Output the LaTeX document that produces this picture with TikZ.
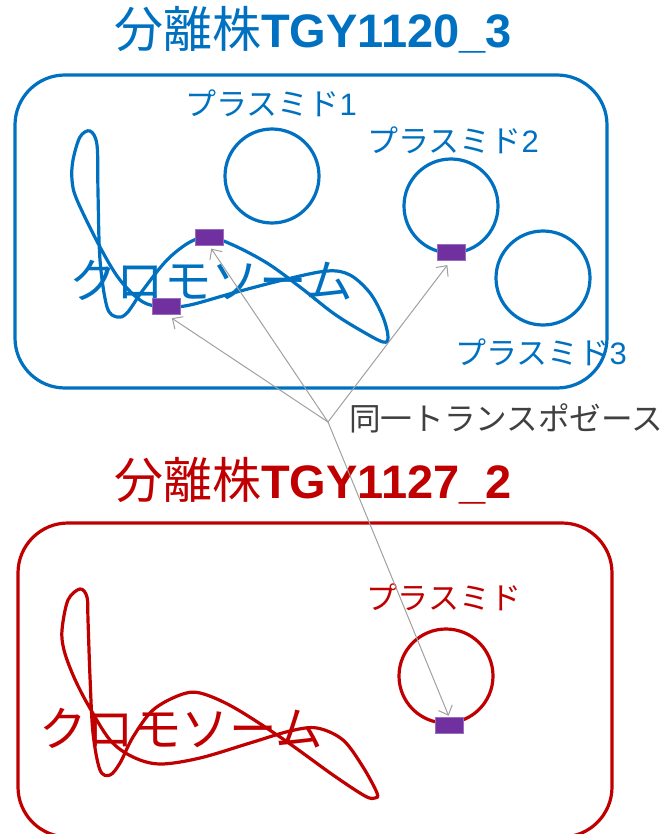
\documentclass[tikz,border=0pt]{standalone}
\usepackage{fontspec}
\usetikzlibrary{arrows.meta}
\newfontfamily\jpfont{Noto Sans CJK JP}
\newfontfamily\latfont{Liberation Sans}
\definecolor{isoblue}{HTML}{0070C0}
\definecolor{isored}{HTML}{C00000}
\definecolor{tnpurple}{HTML}{7030A0}
\definecolor{arrowgray}{HTML}{A0A0A0}
\definecolor{notegray}{HTML}{404040}
\tikzset{
  cellbox/.style={draw, line width=3.2pt, rounded corners=50pt},
  chromo/.style={line width=3.2pt},
  plasmid/.style={circle, draw, line width=3.2pt, minimum size=94pt, inner sep=0pt},
  tnsite/.style={fill=tnpurple, draw=tnpurple!70, line width=0.6pt, minimum width=28pt, minimum height=16pt, inner sep=0pt},
  title/.style={anchor=base west, inner sep=0pt},
  chrlabel/.style={inner sep=0pt, font=\jpfont\fontsize{47.5}{50}\selectfont},
  plabel/.style={inner sep=0pt, font=\fontsize{31}{34}\selectfont},
  tnarrow/.style={draw=arrowgray, line width=1pt, -{Straight Barb[length=8pt,width=15pt]}}
}
\newcommand{\isotitle}[1]{{\jpfont\fontsize{49}{52}\selectfont 分離株}{\latfont\bfseries\fontsize{47}{52}\selectfont #1}}
\begin{document}
\begin{tikzpicture}[x=1pt, y=-1pt]
\useasboundingbox (0,0) rectangle (666,834);

% ---- isolate TGY1120_3 ----
\node[title, text=isoblue] (t1) at (114,48) {\isotitle{TGY1120\_3}};
\draw[cellbox, isoblue] (15,75) rectangle (607,388);
\draw[chromo, isoblue] plot[smooth cycle, tension=0.55] coordinates {
  (90,131) (80,137) (73,160) (72,180) (77,200) (100,247) (120,280) (143,302)
  (166,307) (190,305) (233,293) (283,280) (327,271) (350,275) (370,293)
  (383,317) (388,337) (383,342) (360,330) (333,313) (300,287) (267,263)
  (233,245) (209,237) (190,242) (167,260) (143,290) (127,313) (117,317)
  (107,307) (100,260) (98,193) (97,145)};
\node[chrlabel, text=isoblue] (c1) at (211,280) {クロモソーム};
\node[plasmid, isoblue] (p1) at (272,176) {};
\node[plasmid, isoblue] (p2) at (451,206) {};
\node[plasmid, isoblue] (p3) at (543,278) {};
\node[plabel, text=isoblue] (l1) at (271,103) {{\jpfont プラスミド}{\latfont 1}};
\node[plabel, text=isoblue] (l2) at (453,140) {{\jpfont プラスミド}{\latfont 2}};
\node[plabel, text=isoblue] (l3) at (541,352) {{\jpfont プラスミド}{\latfont 3}};
\node[tnsite] (s1) at (209,237) {};
\node[tnsite] (s2) at (166,306) {};
\node[tnsite] (s3) at (451,252) {};

% ---- isolate TGY1127_2 ----
\node[title, text=isored] (t2) at (114,498) {\isotitle{TGY1127\_2}};
\draw[cellbox, isored] (18,523) rectangle (612,837);
\draw[chromo, isored] plot[smooth cycle, tension=0.55] coordinates {
  (80,589) (68,600) (62,630) (64,650) (73,675) (87,703) (110,740) (133,757)
  (160,764) (200,758) (250,743) (290,731) (317,728) (343,740) (363,767)
  (377,793) (375,798) (365,796) (333,775) (283,739) (233,707) (200,693)
  (180,695) (153,710) (133,737) (120,763) (110,775) (100,770) (93,733)
  (90,677) (88,620) (87,597)};
\node[chrlabel, text=isored] (c2) at (181,728) {クロモソーム};
\node[plasmid, isored] (p4) at (446,676) {};
\node[plabel, text=isored] (l4) at (444,597) {\jpfont プラスミド};
\node[tnsite] (s4) at (449,725) {};

% ---- shared transposase ----
\coordinate (hub) at (328,422);
\node[inner sep=0pt, anchor=west, text=notegray, font=\jpfont\fontsize{31.6}{34}\selectfont] (tn) at (349,418) {同一トランスポゼース};
\draw[tnarrow, shorten >=4pt] (hub) -- (s1.south);
\draw[tnarrow, shorten >=7pt] (hub) -- (s2.south);
\draw[tnarrow, shorten >=6pt] (hub) -- (s3.south);
\draw[tnarrow, shorten >=1pt] (hub) -- (s4.north);
\end{tikzpicture}
\end{document}
